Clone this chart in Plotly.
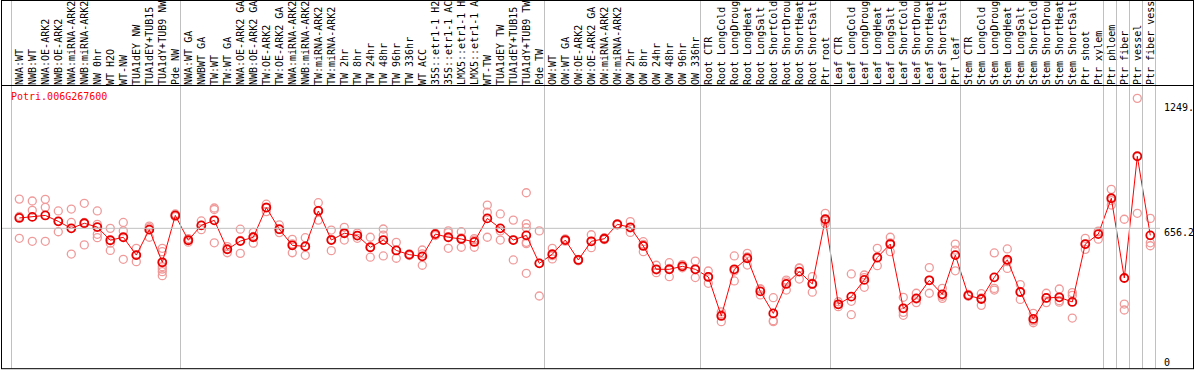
import plotly.graph_objects as go

title = "Potri.006G267600"

categories = [
    "NWA:WT", "NWB:WT", "NWA:OE-ARK2", "NWB:OE-ARK2", "NWA:miRNA-ARK2", "NWB:miRNA-ARK2",
    "NW 0hr", "WT H2O", "WT-NW", "TUA1dEY NW", "TUA1dEY+TUB15", "TUA1dY+TUB9 NW", "Pde NW",
    "NWA:WT GA", "NWBWT GA", "TW:WT", "TW:WT GA", "NWA:OE-ARK2 GA", "NWB:OE-ARK2 GA",
    "TW:OE-ARK2", "TW:OE-ARK2 GA", "NWA:miRNA-ARK2", "NWB:miRNA-ARK2", "TW:miRNA-ARK2",
    "TW:miRNA-ARK2", "TW 2hr", "TW 8hr", "TW 24hr", "TW 48hr", "TW 96hr", "TW 336hr", "WT ACC",
    "35S::etr1-1 H2O", "35S::etr1-1 ACC", "LMX5::etr1-1 H2O", "LMX5::etr1-1 ACC", "WT-TW",
    "TUA1dEY TW", "TUA1dEY+TUB15 TW", "TUA1dY+TUB9 TW", "Pde TW",
    "OW:WT", "OW:WT GA", "OW:OE-ARK2", "OW:OE-ARK2 GA", "OW:miRNA-ARK2", "OW:miRNA-ARK2",
    "OW 2hr", "OW 8hr", "OW 24hr", "OW 48hr", "OW 96hr", "OW 336hr",
    "Root CTR", "Root LongCold", "Root LongDrought", "Root LongHeat", "Root LongSalt",
    "Root ShortCold", "Root ShortDrought", "Root ShortHeat", "Root ShortSalt", "Ptr root",
    "Leaf CTR", "Leaf LongCold", "Leaf LongDrought", "Leaf LongHeat", "Leaf LongSalt",
    "Leaf ShortCold", "Leaf ShortDrought", "Leaf ShortHeat", "Leaf ShortSalt", "Ptr leaf",
    "Stem CTR", "Stem LongCold", "Stem LongDrought", "Stem LongHeat", "Stem LongSalt",
    "Stem ShortCold", "Stem ShortDrought", "Stem ShortHeat", "Stem ShortSalt", "Ptr shoot",
    "Ptr xylem", "Ptr phloem", "Ptr fiber", "Ptr vessel", "Ptr fiber vessel",
]

means = [
    705, 710, 717, 689, 656, 680, 662, 600, 614, 530, 650, 496, 717,
    600, 670, 694, 557, 596, 614, 754, 652, 576, 571, 738, 601, 633, 622, 567, 601, 552,
    532, 524, 629, 614, 606, 592, 703, 656, 601, 623, 491,
    534, 601, 507, 595, 607, 675, 661, 573, 463, 463, 477, 463,
    427, 243, 463, 515, 359, 255, 394, 452, 394, 699,
    298, 334, 413, 519, 582, 279, 326, 411, 345, 530,
    340, 323, 425, 508, 356, 229, 328, 331, 309, 582, 629,
    798, 422, 996, 623,
]

replicates = [
    [794, 712, 609], [785, 741, 595], [793, 755, 595], [738, 689, 640], [747, 684, 535],
    [774, 684, 578], [738, 675, 628, 612], [656, 586, 552], [684, 644, 510], [562, 530, 499],
    [667, 659, 614], [562, 546, 495, 475, 464, 452, 433], [724, 717, 711],
    [608, 600, 591], [691, 670, 650], [752, 745, 588], [570, 560, 541], [652, 599, 538],
    [637, 618, 586], [770, 756, 735], [672, 650, 636], [604, 583, 541], [612, 574, 529],
    [777, 741, 695], [648, 604, 551], [661, 636, 601], [634, 622, 609], [614, 566, 520],
    [653, 624, 526], [590, 552, 515], [536, 532, 528], [554, 536, 482], [633, 630, 622],
    [644, 636, 562], [640, 611, 567], [608, 601, 567], [766, 732, 614], [724, 644, 601],
    [695, 601, 507], [824, 677, 659, 590, 584, 444], [644, 492, 337],
    [562, 527, 512], [606, 601, 596], [510, 507, 503], [626, 595, 565], [612, 607, 603],
    [678, 675, 672], [688, 658, 637], [593, 580, 546], [482, 460, 447], [494, 467, 428],
    [485, 477, 470], [502, 463, 424],
    [455, 428, 397], [262, 250, 216], [526, 455, 408], [538, 522, 483], [371, 370, 342],
    [329, 221, 216], [412, 404, 365], [468, 470, 417], [428, 398, 355], [727, 690, 679],
    [310, 297, 287], [441, 312, 249], [436, 424, 378], [562, 516, 480], [614, 587, 546],
    [331, 260, 246], [350, 323, 306], [471, 412, 350], [373, 336, 326], [582, 553, 456],
    [345, 340, 336], [348, 328, 293], [540, 373, 365], [559, 499, 467], [391, 356, 321],
    [255, 220, 211], [350, 328, 306], [370, 315, 308], [353, 340, 233], [609, 581, 557],
    [643, 640, 605],
    [840, 787, 766], [699, 299, 271], [1269, 727], [703, 588, 574],
]

# index of the last category in each group (group separator lines)
group_last = [-1, 12, 40, 52, 62, 72, 83, 84, 85, 86, 87]

ref_value = 656.2
right_labels = [("1249.", 1249.0, -4.5), ("656.2", 656.2, -3.7), ("0", 0.0, 5.5)]

W, H = 1194, 370
L, R, T, B = 2, 1156, 86, 368   # plot area in pixels

idx = list(range(len(categories)))
rep_x, rep_y = [], []
for i, reps in enumerate(replicates):
    for v in reps:
        rep_x.append(i)
        rep_y.append(v)

fig = go.Figure()
fig.add_trace(go.Scatter(
    x=rep_x, y=rep_y, mode="markers",
    marker=dict(symbol="circle-open", size=8, color="#f09a9a", line=dict(width=1.3)),
    hoverinfo="skip", cliponaxis=False,
))
fig.add_trace(go.Scatter(
    x=idx, y=means, mode="lines+markers",
    line=dict(color="#ff0000", width=1),
    marker=dict(symbol="circle-open", size=8, color="#e80000", line=dict(width=1.8)),
    cliponaxis=False,
))


def px(xp):
    return (xp - L) / (R - L)


def py(yp):
    return (B - yp) / (B - T)


shapes = []
for g in group_last:
    shapes.append(dict(type="line", xref="x", yref="paper", x0=g + 0.4, x1=g + 0.4,
                       y0=py(368.5), y1=py(0), line=dict(color="#c0c0c0", width=1)))
shapes.append(dict(type="line", xref="paper", yref="y", x0=px(1.5), x1=px(1160),
                   y0=ref_value, y1=ref_value, line=dict(color="#c0c0c0", width=1)))
black = dict(color="black", width=1)
shapes.append(dict(type="line", xref="paper", yref="paper", x0=px(1.5), x1=px(1.5),
                   y0=py(369), y1=py(0), line=black))
shapes.append(dict(type="line", xref="paper", yref="paper", x0=px(1193.5), x1=px(1193.5),
                   y0=py(369), y1=py(0), line=black))
shapes.append(dict(type="line", xref="paper", yref="paper", x0=px(1), x1=px(1194),
                   y0=py(85.5), y1=py(85.5), line=black))
shapes.append(dict(type="line", xref="paper", yref="paper", x0=px(1), x1=px(1194),
                   y0=py(368.7), y1=py(368.7), line=black))
shapes.append(dict(type="line", xref="paper", yref="paper", x0=px(1), x1=px(1194),
                   y0=py(0.5), y1=py(0.5), line=black))

mono = "DejaVu Sans Mono, Liberation Mono, monospace"
annotations = [dict(
    text=title, xref="paper", yref="paper", x=px(9), y=py(96.7),
    xanchor="left", yanchor="middle", showarrow=False,
    font=dict(family=mono, size=10, color="#ff0000"),
)]
for txt, val, shift in right_labels:
    annotations.append(dict(
        text=txt, xref="paper", yref="y", x=px(1162), y=val, yshift=shift,
        xanchor="left", yanchor="middle", showarrow=False,
        font=dict(family=mono, size=10, color="black"),
    ))

x0 = (L - 19.3) / 13.0
x1 = (R - 19.3) / 13.0
y_scale = 0.2121
ylo = (367.5 - B) / y_scale
yhi = (367.5 - T) / y_scale

fig.update_layout(
    width=W, height=H, autosize=False,
    margin=dict(l=L, r=W - R, t=T, b=H - B, pad=0, autoexpand=False),
    paper_bgcolor="white", plot_bgcolor="white",
    showlegend=False,
    shapes=shapes, annotations=annotations,
    xaxis=dict(
        range=[x0, x1], side="top", tickmode="array", tickvals=idx, ticktext=categories,
        tickangle=-90, ticks="", showgrid=False, zeroline=False, showline=False,
        automargin=False,
        tickfont=dict(family=mono, size=10, color="black"), fixedrange=True,
    ),
    yaxis=dict(range=[ylo, yhi], showticklabels=False, showgrid=False, zeroline=False,
               showline=False, ticks="", fixedrange=True, automargin=False),
)

fig.write_html("out.html", config={"displayModeBar": False},
               post_script="document.body.style.margin='0';document.body.style.overflow='hidden';")
